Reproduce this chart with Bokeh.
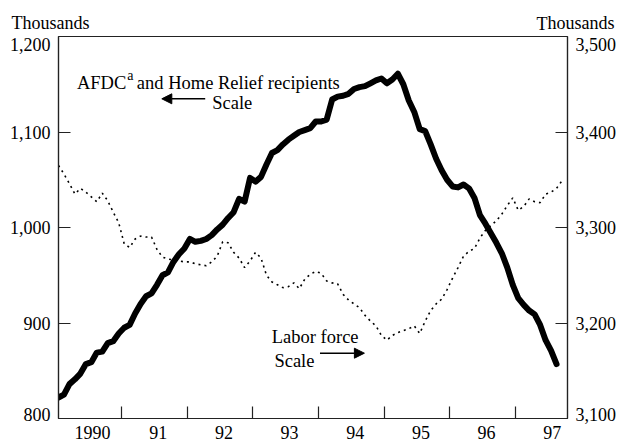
from bokeh.plotting import figure
from bokeh.models import (Range1d, LinearAxis, FixedTicker, Label, Arrow, NormalHead)
from bokeh.embed import file_html
from bokeh.resources import INLINE

# ---------------- data (thousands), monthly from January 1990 ----------------
afdc_home_relief = [
    822, 825, 836, 841, 847, 857, 859, 869, 870, 879, 881, 889,
    895, 898, 910, 920, 928, 931, 940, 950, 953, 964, 972, 978,
    988, 985, 986, 988, 992, 998, 1003, 1010, 1016, 1030, 1027, 1052,
    1048, 1053, 1066, 1078, 1081, 1087, 1092, 1096, 1100, 1102, 1104, 1111,
    1111, 1113, 1134, 1137, 1138, 1140, 1145, 1147, 1148, 1151, 1154, 1156,
    1151, 1155, 1161, 1150, 1133, 1121, 1103, 1101, 1087, 1072, 1060, 1050,
    1043, 1042, 1045, 1041, 1031, 1013, 1004, 994, 984, 973, 958, 940,
    926, 919, 913, 909, 898, 882, 871, 857,
]
labor_force = [
    3365, 3356, 3346, 3335, 3341, 3337, 3332, 3327, 3336, 3328, 3316, 3305,
    3283, 3279, 3288, 3291, 3290, 3290, 3277, 3269, 3267, 3266, 3265, 3264,
    3264, 3262, 3261, 3260, 3264, 3270, 3285, 3284, 3274, 3268, 3258, 3265,
    3274, 3268, 3250, 3243, 3240, 3237, 3238, 3242, 3236, 3246, 3251, 3254,
    3252, 3244, 3242, 3241, 3230, 3224, 3220, 3216, 3208, 3202, 3197, 3187,
    3182, 3187, 3190, 3192, 3194, 3197, 3189, 3202, 3213, 3220, 3225, 3235,
    3247, 3258, 3270, 3275, 3278, 3289, 3297, 3302, 3307, 3314, 3323, 3331,
    3318, 3322, 3330, 3327, 3326, 3335, 3337, 3341, 3349,
]
years = [1990, 1991, 1992, 1993, 1994, 1995, 1996, 1997]
year_labels = ["1990", "91", "92", "93", "94", "95", "96", "97"]
left_ticks = [800, 900, 1000, 1100, 1200]
right_ticks = [3100, 3200, 3300, 3400, 3500]
unit_caption = "Thousands"

START = 1990


def month_x(i):
    return START + (i + 0.5) / 12.0


x_afdc = [month_x(i) for i in range(len(afdc_home_relief))]
x_lab = [month_x(i) for i in range(len(labor_force))]

X0, X1 = month_x(0), month_x(93)
Y0, Y1 = 800, 1200
R0, R1 = 3100, 3500

FONT = "Liberation Serif"
INK = "#000000"
AX = "#222222"

# frame edges in page pixels
FL, FR, FT, FB = 58.0, 568.0, 36.0, 418.0
W, H = 619, 445

p = figure(width=W, height=H, output_backend="svg", toolbar_location=None,
           x_range=Range1d(X0, X1), y_range=Range1d(Y0, Y1),
           min_border_left=int(FL), min_border_right=int(W - FR),
           min_border_top=int(FT), min_border_bottom=int(H - FB),
           x_axis_location=None, y_axis_location=None)
p.extra_y_ranges = {"lf": Range1d(R0, R1)}
p.xgrid.visible = False
p.ygrid.visible = False
p.outline_line_color = AX
p.outline_line_width = 1.2
p.background_fill_color = "white"
p.border_fill_color = "white"


def dx(px):
    return X0 + (px - FL) / (FR - FL) * (X1 - X0)


def dy(py):
    return Y1 - (py - FT) / (FB - FT) * (Y1 - Y0)


def style_axis(ax):
    ax.axis_line_color = AX
    ax.axis_line_width = 1.2
    ax.major_tick_line_color = None          # labels sit on (hidden) major ticks
    ax.minor_tick_line_color = AX            # visible inward ticks are minor ticks
    ax.minor_tick_line_width = 1.2
    ax.minor_tick_in = 12
    ax.minor_tick_out = 0
    ax.major_tick_in = 0
    ax.major_tick_out = 0
    ax.major_label_text_font = FONT
    ax.major_label_text_font_size = "18px"
    ax.major_label_text_color = INK
    ax.major_label_standoff = 8


def fmt(v):
    return f"{v:,}"


# edge labels are nudged inside the frame, as in the original (shift in px)
nudge = {0: -4.0, 4: 7.5}
px_per_unit = (FB - FT) / (Y1 - Y0)

left_pos = [t - nudge.get(i, 0.0) / px_per_unit for i, t in enumerate(left_ticks)]
yl = LinearAxis(ticker=FixedTicker(ticks=left_pos, minor_ticks=left_ticks[1:-1]),
                major_label_overrides={pos: fmt(t) for pos, t in zip(left_pos, left_ticks)})
style_axis(yl)
p.add_layout(yl, "left")

right_pos = [t - nudge.get(i, 0.0) / px_per_unit for i, t in enumerate(right_ticks)]
yr = LinearAxis(y_range_name="lf",
                ticker=FixedTicker(ticks=right_pos, minor_ticks=right_ticks[1:-1]),
                major_label_overrides={pos: fmt(t) for pos, t in zip(right_pos, right_ticks)})
style_axis(yr)
p.add_layout(yr, "right")

# bottom axis: year labels inside each year, ticks at year boundaries
label_pos = [y + 0.56 for y in years]
xb = LinearAxis(ticker=FixedTicker(ticks=label_pos, minor_ticks=years[1:]),
                major_label_overrides=dict(zip(label_pos, year_labels)))
style_axis(xb)
xb.major_label_standoff = 7
p.add_layout(xb, "below")


# unit captions over the two value axes, both on one row in the top border:
# a near-zero label angle makes Bokeh anchor the caption at its start
# (positive angle, right caption) or its end (negative angle, left caption)
def caption_axis(pos, angle, standoff):
    ax = LinearAxis(ticker=FixedTicker(ticks=[pos], minor_ticks=[]),
                    major_label_overrides={pos: unit_caption})
    style_axis(ax)
    ax.axis_line_color = None
    ax.minor_tick_line_color = None
    ax.major_label_orientation = angle
    ax.major_label_standoff = standoff
    p.add_layout(ax, "above")


caption_axis(dx(537.0), 1e-4, 13)    # inner row: right caption (starts at 537 px)
caption_axis(dx(89.0), -1e-4, -23)   # outer row: left caption (ends at 89 px)

# series
p.line(x=x_lab, y=labor_force, y_range_name="lf", line_color=INK,
       line_width=1.6, line_dash="2 4")
p.line(x=x_afdc, y=afdc_home_relief, line_color=INK, line_width=6,
       line_join="round", line_cap="round")


# ---- annotations (placed by page pixel position inside the frame) ----
def lab(text, px, py, size="18.5px", align="left"):
    p.add_layout(Label(x=dx(px), y=dy(py), text=text, text_font=FONT,
                       text_font_size=size, text_color=INK, text_align=align,
                       text_baseline="alphabetic"))


lab("AFDC", 76.5, 82.3)
lab("a", 127.0, 74.5, size="14px")
lab("and Home Relief recipients", 136.5, 82.3)
lab("Scale", 212.0, 102.5)
p.add_layout(Arrow(x_start=dx(205), y_start=dy(98.3), x_end=dx(161.5), y_end=dy(98.3),
                   line_color=INK, line_width=1.5,
                   end=NormalHead(size=10, fill_color=INK, line_color=INK, line_width=1)))

lab("Labor force", 271.7, 336.7)
lab("Scale", 274.3, 360.0)
p.add_layout(Arrow(x_start=dx(320), y_start=dy(352.7), x_end=dx(364.5), y_end=dy(352.7),
                   line_color=INK, line_width=1.5,
                   end=NormalHead(size=10, fill_color=INK, line_color=INK, line_width=1)))

open("out.html", "w").write(file_html(p, INLINE))
